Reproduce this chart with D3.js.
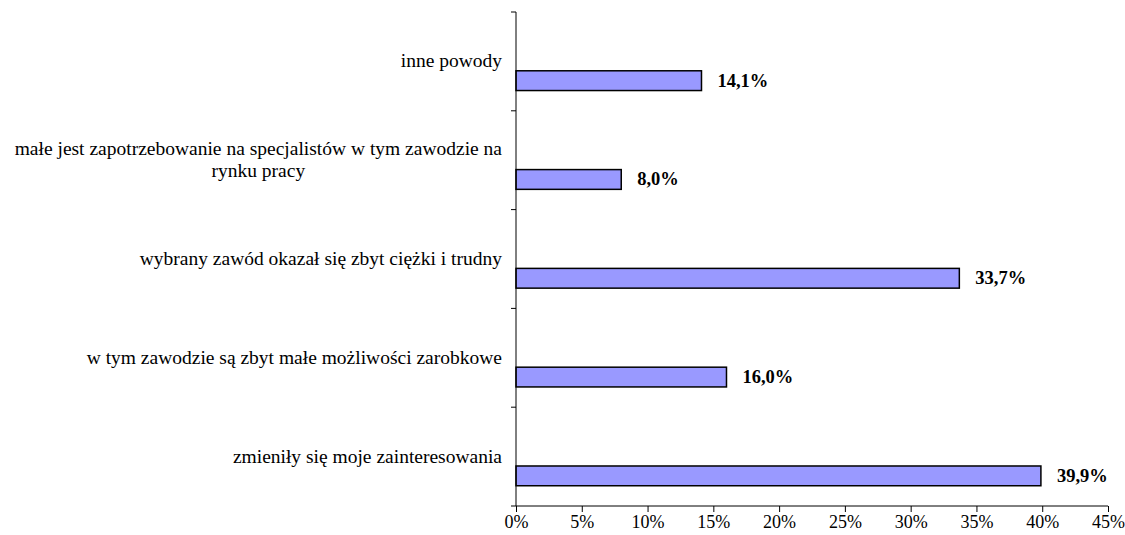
<!DOCTYPE html>
<html>
<head>
<meta charset="utf-8">
<script src="https://cdn.jsdelivr.net/npm/d3@7"></script>
<style>
  body { margin: 0; background: #fff; }
  svg { display: block; }
  svg text { font-family: "Liberation Serif", "Times New Roman", serif; }
</style>
</head>
<body>
<div id="chart"></div>
<script>
// categories top to bottom, one array per row of text
var categories = [
    ["inne powody"],
    ["małe jest zapotrzebowanie na specjalistów w tym zawodzie na", "rynku pracy"],
    ["wybrany zawód okazał się zbyt ciężki i trudny"],
    ["w tym zawodzie są zbyt małe możliwości zarobkowe"],
    ["zmieniły się moje zainteresowania"]
];
var values = [14.1, 8.0, 33.7, 16.0, 39.9];
var valueLabels = ["14,1%", "8,0%", "33,7%", "16,0%", "39,9%"];
var xTicks = [0, 5, 10, 15, 20, 25, 30, 35, 40, 45];

var W = 1125, H = 535;
var plotLeft = 516, plotRight = 1108, plotTop = 12, plotBottom = 506;

var svg = d3.select("#chart").append("svg")
    .attr("width", W)
    .attr("height", H);

var x = d3.scaleLinear().domain([0, 45]).range([plotLeft, plotRight]);
var y = d3.scaleBand().domain(d3.range(categories.length)).range([plotTop, plotBottom]).padding(0);

var bw = y.bandwidth();
var barOff = bw * 0.595, barH = bw * 0.2;

// bars
svg.selectAll("rect.bar")
    .data(values)
    .enter()
    .append("rect")
    .attr("class", "bar")
    .attr("x", x(0))
    .attr("y", function(d, i) { return y(i) + barOff; })
    .attr("width", function(d) { return x(d) - x(0); })
    .attr("height", barH)
    .attr("fill", "#9999ff")
    .attr("stroke", "#000")
    .attr("stroke-width", 1.5);

// value labels
svg.selectAll("text.val")
    .data(values)
    .enter()
    .append("text")
    .attr("class", "val")
    .attr("x", function(d) { return x(d) + 16; })
    .attr("y", function(d, i) { return y(i) + barOff + barH / 2 + 6; })
    .style("font-size", "18.5px")
    .style("font-weight", "bold")
    .text(function(d, i) { return valueLabels[i]; });

// x axis
var xAxis = d3.axisBottom(x)
    .tickValues(xTicks)
    .tickSize(6)
    .tickFormat(function(d) { return d + "%"; });

var gx = svg.append("g")
    .attr("transform", "translate(0," + plotBottom + ")")
    .call(xAxis);
gx.select(".domain").attr("d", "M" + plotLeft + ",0H" + plotRight).attr("stroke", "#000");
gx.selectAll(".tick line").attr("stroke", "#000");
gx.selectAll(".tick text")
    .style("font-size", "18px")
    .attr("fill", "#000")
    .attr("y", 6)
    .attr("dy", "0.9em");

// y axis (ticks between categories, pointing left)
var yTicks = d3.range(categories.length + 1).map(function(i) { return plotTop + i * bw; });
svg.append("line")
    .attr("x1", plotLeft).attr("x2", plotLeft)
    .attr("y1", plotTop).attr("y2", plotBottom)
    .attr("stroke", "#000");
svg.selectAll("line.ytick")
    .data(yTicks)
    .enter()
    .append("line")
    .attr("class", "ytick")
    .attr("x1", plotLeft - 5).attr("x2", plotLeft)
    .attr("y1", function(d) { return d; })
    .attr("y2", function(d) { return d; })
    .attr("stroke", "#000");

// category labels: block right-aligned, lines centred within block
var labelRight = 502, lineH = 22;
categories.forEach(function(lines, i) {
    var g = svg.append("g");
    var texts = lines.map(function(l) {
        return g.append("text")
            .style("font-size", "19.5px")
            .attr("fill", "#000")
            .text(l);
    });
    var widths = texts.map(function(t) { return t.node().getComputedTextLength(); });
    var maxW = d3.max(widths);
    var cx = labelRight - maxW / 2;
    var cy = y(i) + bw / 2;
    var y0 = cy - (lines.length - 1) * lineH / 2 + 6;
    texts.forEach(function(t, j) {
        t.attr("x", cx).attr("y", y0 + j * lineH).attr("text-anchor", "middle");
    });
});
</script>
</body>
</html>
